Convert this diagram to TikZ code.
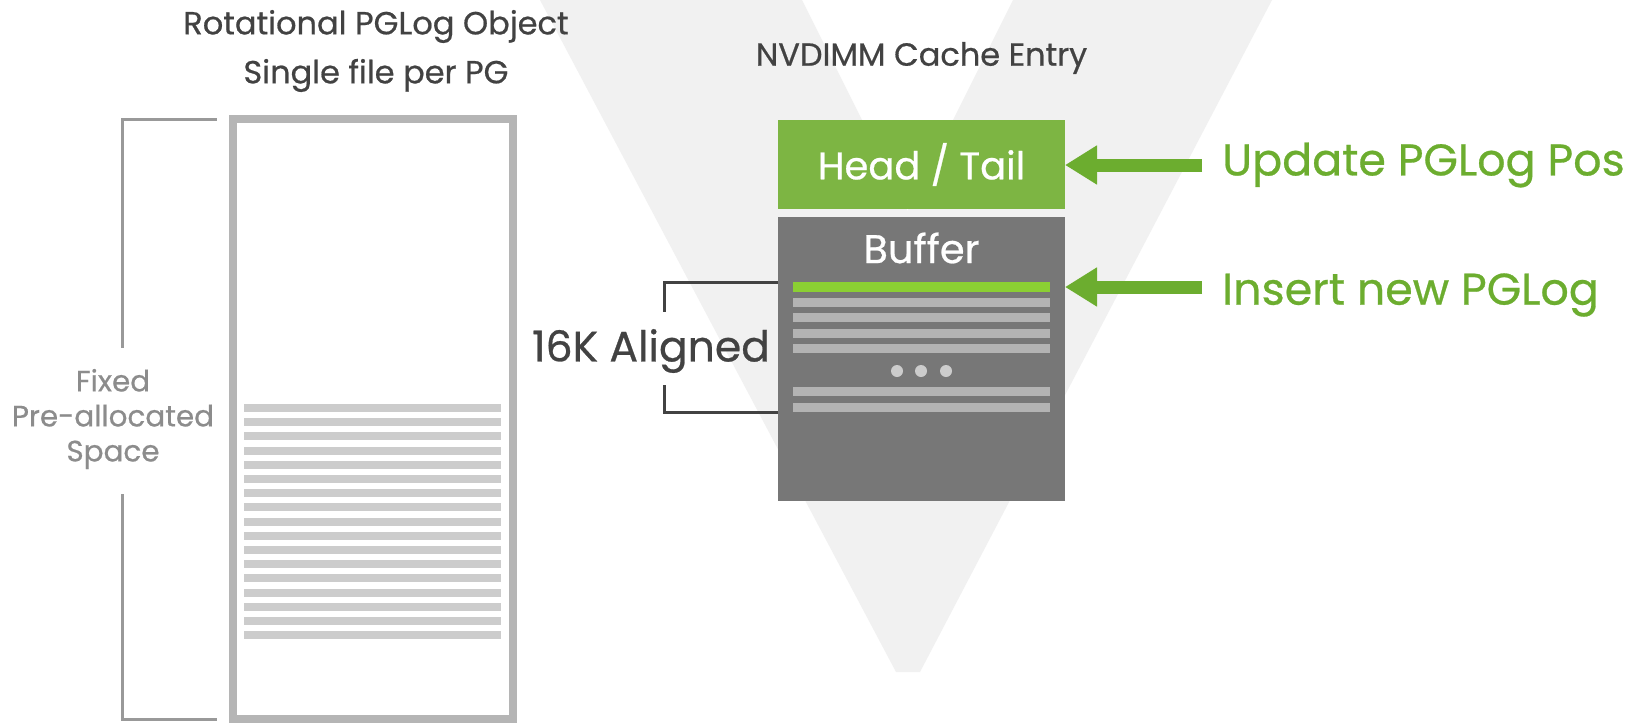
\documentclass[tikz,border=0pt]{standalone}
\usepackage{xcolor}
\usepackage{fontspec}
\setmainfont{Poppins}[RawFeature={embolden=0.6}]
\usepackage{tikz}
\usetikzlibrary{arrows.meta, positioning, calc}
\definecolor{vshade}{HTML}{F1F1F1}
\definecolor{headgreen}{HTML}{7DB543}
\definecolor{arrowgreen}{HTML}{6CAD2F}
\definecolor{loggreen}{HTML}{8BCF33}
\definecolor{bufgray}{HTML}{777777}
\definecolor{slotgray}{HTML}{B3B3B3}
\definecolor{rowgray}{HTML}{CCCCCC}
\definecolor{framegray}{HTML}{B5B5B5}
\definecolor{bracegray}{HTML}{999999}
\definecolor{labelgray}{HTML}{8C8C8C}
\definecolor{inkgray}{HTML}{424242}

\tikzset{
  heading/.style={text=inkgray, font=\fontsize{32}{49}\selectfont, align=center, inner sep=0pt},
  box/.style={minimum width=287pt, inner sep=0pt, outer sep=0pt, text=white},
  slot/.style={minimum width=257pt, inner sep=0pt, outer sep=0pt},
  brace/.style={bracegray, line width=3pt},
  note/.style={text=arrowgreen, font=\fontsize{44.4}{48}\selectfont, anchor=west, inner sep=0pt},
  pgarrow/.style={arrowgreen, line width=13pt, -{Triangle[length=32pt, width=37pt]}}
}

\begin{document}
\begin{tikzpicture}[x=1pt, y=-1pt]
    \useasboundingbox (0,0) rectangle (1631,723);
    \fill[white] (0,0) rectangle (1631,723);
    % V backdrop
    \fill[vshade] (540,0) -- (896,672) -- (920,672) -- (1272,0) -- (1013,0) -- (907.5,211) -- (802,0) -- cycle;

    % Rotational PGLog object
    \node[heading] (objtitle) at (376,51) {Rotational PGLog Object\\Single file per PG};
    \node[draw=framegray, line width=8pt, minimum width=280pt, minimum height=600pt, outer sep=0pt] (pglog) at (372.5,419) {};
    \foreach \i in {0,...,16}
        \fill[rowgray] (244,404+14.2*\i) rectangle (501,412+14.2*\i);
    \draw[brace] ($(pglog.north west)+(-16,0)$) -| (122,348);
    \draw[brace] ($(pglog.south west)+(-16,0)$) -| (122,494);
    \node[text=labelgray, font=\fontsize{29.4}{35}\selectfont, align=center] (fixed) at (113,419) {Fixed\\Pre-allocated\\Space};

    % NVDIMM cache entry
    \node[heading] (nvtitle) at (921.5,58) {NVDIMM Cache Entry};
    \node[box, fill=headgreen, minimum height=89pt, font=\fontsize{38.5}{40}\selectfont] (head) at (921.5,164.5) {Head / Tail};
    \node[box, fill=bufgray, minimum height=284pt] (buffer) at (921.5,359) {};
    \node[text=white, font=\fontsize{40}{42}\selectfont] (buflabel) at (921.5,248) {Buffer};
    \node[slot, fill=loggreen, minimum height=10pt] (newlog) at (921.5,287) {};
    \foreach \y in {298,313,329,344,387}
        \fill[slotgray] (793,\y) rectangle (1050,\y+9);
    \node[slot, fill=slotgray, minimum height=9pt] (lastlog) at (921.5,407.5) {};
    \foreach \x in {897,921,946}
        \fill[rowgray] (\x,371) circle (6pt);

    % 16K bracket
    \draw[brace, inkgray] (newlog.north -| buffer.west) -| (664,312);
    \draw[brace, inkgray] (lastlog.south -| buffer.west) -| (664,385);
    \node[text=inkgray, font=\fontsize{42.5}{44}\selectfont] (aligned) at (651,351) {16K Aligned};

    % Operations
    \node[note] (update) at (1222,165) {Update PGLog Pos};
    \node[note] (insert) at (1222,295) {Insert new PGLog};
    \draw[pgarrow] ([xshift=-20pt]update.west) -- (update.west -| head.east);
    \draw[pgarrow] ([xshift=-20pt]insert.west |- newlog.east) -- (newlog.east -| buffer.east);
\end{tikzpicture}
\end{document}
